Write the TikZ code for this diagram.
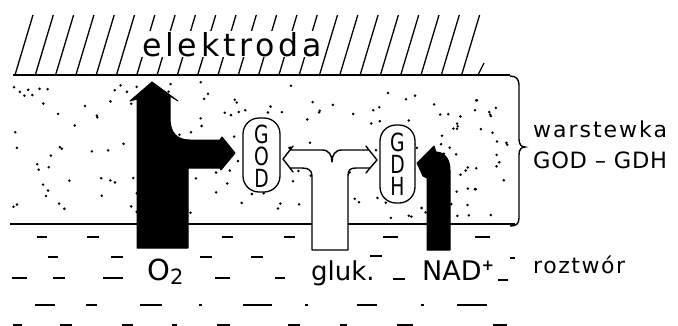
\documentclass[tikz,border=0pt]{standalone}
\usepackage{fontspec}
\setmainfont{DejaVu Sans}
\newfontfamily\capfont[FakeStretch=0.75]{DejaVu Sans}
\usepackage{tikz}

\tikzset{
  surface/.style={line width=1.4pt},
  hatchline/.style={line width=1.3pt},
  solmark/.style={line width=1.8pt},
  enzyme/.style={draw, line width=1.3pt, fill=white, rounded corners=16pt, inner sep=0pt},
  enzletter/.style={inner sep=0pt, font=\capfont\fontsize{25}{25}\selectfont},
  solidarrow/.style={fill=black, draw=black, line width=1pt, line join=round},
  openarrow/.style={fill=white, draw=black, line width=1.4pt, line join=round},
  lbl/.style={inner sep=0pt, anchor=base west},
}

\begin{document}
\begin{tikzpicture}[x=1pt,y=-1pt]
  \useasboundingbox (0,0) rectangle (678,325);

  % Layer (stippled)
  \pgfmathsetseed{4711}
  \foreach \i in {1,...,210} {
    \pgfmathsetmacro{\px}{12+496*rnd}
    \pgfmathsetmacro{\py}{82+136*rnd}
    \fill (\px,\py) circle[radius=1.4pt];
  }
  \draw[surface] (10,224) -- (515,224);

  % Electrode
  \draw[surface] (13,75) -- (510,75);
  \foreach \k in {0,...,22} {
    \draw[hatchline] (15+20.3*\k,75) -- (33+20.3*\k,15);
  }
  \draw[hatchline] (478,75) -- (484,63);
  \node[fill=white, inner sep=1pt, anchor=base] (elektroda) at (232,56)
    {\fontsize{31.6}{36}\selectfont\addfontfeatures{LetterSpace=12}elektroda};

  % Enzymes
  \node[enzyme, minimum width=37pt, minimum height=74pt] (god) at (261.5,155) {};
  \foreach \l [count=\n] in {G,O,D}
    \node[enzletter] (god-\n) at (261.5,112+22*\n) {\l};
  \node[enzyme, minimum width=35pt, minimum height=78pt] (gdh) at (397.5,164) {};
  \foreach \l [count=\n] in {G,D,H}
    \node[enzletter] (gdh-\n) at (397.5,120+22*\n) {\l};

  % Glucose (open arrow)
  \draw[openarrow] (312,250) -- (312,176) .. controls (312,170) and (308,168) .. (302,168)
    -- (290,168) -- (293,172) -- (290,168) -- (283,159) -- (290,150) -- (293,146) -- (290,150)
    -- (322,150) .. controls (329,150) and (332,155) .. (332,162)
    .. controls (332,155) and (335,150) .. (342,150) -- (369,150) -- (366,146) -- (369,150)
    -- (377,160) -- (370,168) -- (366,173) -- (370,168) -- (356,168)
    .. controls (350,168) and (348,170) .. (348,176) -- (348,250) -- cycle;

  % O2 (solid arrow)
  \draw[solidarrow] (137,248) -- (137,99) -- (130,101) -- (152,82) -- (178,101) -- (170,96)
    -- (170,118) .. controls (170,132) and (176,140) .. (190,140) -- (220,140) -- (222,137)
    -- (235,153) -- (221,170) -- (220,168) -- (188,168) -- (188,248) -- cycle;

  % NAD+ (solid arrow)
  \draw[solidarrow] (427,250) -- (427,178) -- (423,176) -- (417,163) -- (434,146) -- (436,152)
    .. controls (445,152) and (450,160) .. (450,170) -- (450,250) -- cycle;

  % Brace
  \draw[surface] (510,76) .. controls (516,76) and (519,79) .. (519,85) -- (519,139)
    .. controls (519,144) and (521,147) .. (525,147) .. controls (521,147) and (519,150) .. (519,155)
    -- (519,218) .. controls (519,224) and (516,226) .. (510,226);

  % Labels
  \node[lbl] (warstewka) at (533,137)
    {\fontsize{22}{24}\selectfont\addfontfeatures{LetterSpace=9}warstewka};
  \node[lbl] (godgdh) at (533,168)
    {\fontsize{22.5}{24}\selectfont\addfontfeatures{LetterSpace=3}GOD – GDH};
  \node[lbl] (roztwor) at (533,273)
    {\fontsize{22}{24}\selectfont\addfontfeatures{LetterSpace=7}roztwór};
  \node[lbl] (otwo) at (147,280)
    {\fontsize{29}{30}\selectfont O\raisebox{-4pt}{\fontsize{21}{21}\selectfont 2}};
  \node[lbl] (gluk) at (311,280) {\fontsize{26}{30}\selectfont gluk.};
  \node[lbl] (nad) at (422,280)
    {\fontsize{27}{30}\selectfont NAD\raisebox{10pt}{\fontsize{15}{15}\selectfont\bfseries +}};

  % Solution
  \foreach \a/\b/\y in {37/47/237, 87/99/237, 222/233/237, 284/295/237, 383/398/237, 475/490/237,
      48/58/257, 111/123/257, 200/212/257, 251/263/257, 370/382/256, 510/515/258,
      12/27/278, 53/65/278, 103/123/278, 215/230/278, 275/285/278, 393/405/279, 498/508/280,
      35/55/305, 86/97/305, 140/162/305, 199/202/305, 243/272/305, 305/308/305,
      357/377/305, 421/424/305, 457/487/305,
      13/22/325, 60/72/325, 122/133/325, 172/177/325, 217/230/325, 288/300/325,
      340/347/325, 397/413/325, 493/507/325} {
    \draw[solmark] (\a,\y) -- (\b,\y);
  }
\end{tikzpicture}
\end{document}
